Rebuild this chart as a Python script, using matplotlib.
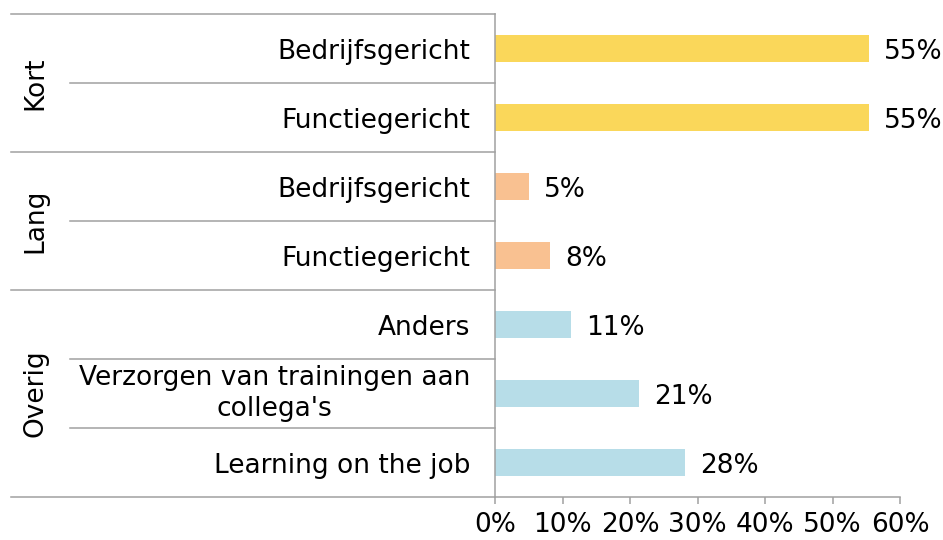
import matplotlib.pyplot as plt
import matplotlib.transforms as mtransforms
from matplotlib.lines import Line2D

plt.rcParams['font.family'] = ['DejaVu Sans']

# data, top to bottom
groups = ['Kort', 'Lang', 'Overig']
group_sizes = [2, 2, 3]
labels = ['Bedrijfsgericht', 'Functiegericht',
          'Bedrijfsgericht', 'Functiegericht',
          'Anders', "Verzorgen van trainingen aan\ncollega's", 'Learning on the job']
values = [55.4, 55.4, 5.0, 8.1, 11.3, 21.3, 28.1]
value_labels = ['55%', '55%', '5%', '8%', '11%', '21%', '28%']
group_colors = ['#FAD75A', '#F9C191', '#B7DDE8']
xticks = [0, 10, 20, 30, 40, 50, 60]

grey = '#A0A0A0'
fs = 19

fig = plt.figure(figsize=[9.43, 5.4], dpi=100)
ax = fig.add_axes([495/943, 1-497/540, 405/943, 483/540])

colors = []
for c, n in zip(group_colors, group_sizes):
    colors += [c] * n

ypos = list(range(len(values)))
ax.barh(ypos, values, height=0.4, color=colors)
for y, v, t in zip(ypos, values, value_labels):
    ax.annotate(t, (v, y), xytext=(11, 0), textcoords='offset points',
                ha='left', va='center_baseline', fontsize=fs)

ax.set_ylim(len(values) - 0.5, -0.5)
ax.set_xlim(0, 60)
ax.set_xticks(xticks)
ax.set_xticklabels([str(x) + '%' for x in xticks], fontsize=fs)
ax.set_yticks([])
ax.tick_params(axis='x', color=grey, width=1.1, length=5, pad=6)
for s in ['top', 'right']:
    ax.spines[s].set_visible(False)
for s in ['left', 'bottom']:
    ax.spines[s].set_color(grey)
    ax.spines[s].set_linewidth(1.1)

# left label table
trans = mtransforms.blended_transform_factory(fig.transFigure, ax.transData)
x_outer = 11 / 943
x_inner = 70 / 943
x_axis = 495 / 943
x_text = 470 / 943
x_group = 35 / 943

for y, t in zip(ypos, labels):
    fig.text(x_text, y, t, transform=trans, ha='right',
             va='center' if '\n' in t else 'center_baseline',
             multialignment='center', fontsize=fs, linespacing=1.25)

start = 0
for g, n in zip(groups, group_sizes):
    top = start - 0.5
    fig.add_artist(Line2D([x_outer, x_axis], [top, top], transform=trans,
                          color=grey, lw=1.1))
    for k in range(1, n):
        fig.add_artist(Line2D([x_inner, x_axis], [top + k, top + k], transform=trans,
                              color=grey, lw=1.1))
    fig.text(x_group, start + (n - 1) / 2, g, transform=trans, rotation=90,
             ha='center', va='center', fontsize=fs)
    start += n
fig.add_artist(Line2D([x_outer, x_axis], [start - 0.5, start - 0.5], transform=trans,
                      color=grey, lw=1.1))

plt.savefig('out.png', dpi=100, facecolor='white')
